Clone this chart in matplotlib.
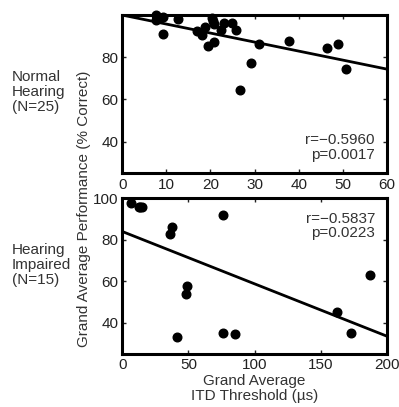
import matplotlib
matplotlib.use("Agg")
import matplotlib.pyplot as plt
import numpy as np

plt.rcParams["font.family"] = ["Liberation Sans", "DejaVu Sans"]
plt.rcParams["font.size"] = 11

# normal hearing: ITD threshold (us) vs performance (% correct)
nh_itd = [7.6, 7.6, 8.5, 9.2, 9.3, 12.7, 17.0, 18.0, 18.8, 19.5, 20.7, 20.4,
          20.5, 20.7, 22.4, 23.1, 24.8, 25.7, 29.1, 26.6, 30.9, 37.8, 46.4,
          48.9, 50.7]
nh_perf = [100.0, 97.6, 98.8, 99.2, 91.0, 98.1, 92.4, 90.5, 94.2, 85.3, 87.2,
           98.4, 97.0, 95.7, 92.9, 96.4, 96.1, 92.9, 77.4, 64.5, 86.1, 87.7,
           84.5, 86.4, 74.3]
nh_fit = [100.0, 74.4]  # fit line at x = 0 and 60
nh_stats = "r=\u22120.5960\np=0.0017"

# hearing impaired
hi_itd = [6.3, 12.6, 13.5, 14.7, 76.1, 37.4, 35.7, 48.8, 47.8, 41.7, 76.1,
          85.5, 162.6, 172.7, 187.4]
hi_perf = [97.6, 95.7, 96.0, 95.7, 91.8, 86.1, 82.7, 57.9, 53.9, 33.3, 35.2,
           34.4, 45.3, 34.9, 62.9]
hi_fit = [84.0, 33.6]  # fit line at x = 0 and 200
hi_stats = "r=\u22120.5837\np=0.0223"


def style(ax, xlim, xticks):
    ax.set_xlim(*xlim)
    ax.set_ylim(25, 100)
    ax.set_xticks(xticks)
    ax.set_yticks([40, 60, 80, 100])
    ax.tick_params(direction="in", top=True, right=True, length=3,
                   width=1, labelsize=11, pad=3, colors="#222222")
    for s in ax.spines.values():
        s.set_linewidth(2.2)


fig = plt.figure(figsize=(3.99, 4.07), dpi=100)
ax1 = fig.add_axes([0.3065, 0.574, 0.663, 0.389])
ax2 = fig.add_axes([0.3065, 0.1302, 0.663, 0.3826])

ax1.plot(nh_itd, nh_perf, "o", color="black", ms=6.2, clip_on=False)
ax1.plot([0, 60], nh_fit, color="black", lw=2)
style(ax1, (0, 60), [0, 10, 20, 30, 40, 50, 60])
ax1.set_yticklabels(["40", "60", "80", ""])
ax1.text(57.3, 30.5, nh_stats, ha="right", va="bottom", fontsize=11,
         color="#333333", linespacing=1.05)

ax2.plot(hi_itd, hi_perf, "o", color="black", ms=6.2, clip_on=False)
ax2.plot([0, 200], hi_fit, color="black", lw=2)
style(ax2, (0, 200), [0, 50, 100, 150, 200])
ax2.text(191, 93.5, hi_stats, ha="right", va="top", fontsize=11,
         color="#333333", linespacing=1.05)
ax2.set_xlabel("Grand Average\nITD Threshold (\u00b5s)", fontsize=11,
               color="#333333", labelpad=1, linespacing=1.1)

fig.text(0.21, 0.488, "Grand Average Performance (% Correct)", rotation=90,
         ha="center", va="center", fontsize=11, color="#333333")
fig.text(0.03, 0.773, "Normal\nHearing\n(N=25)", ha="left", va="center",
         fontsize=11, color="#333333", linespacing=1.1)
fig.text(0.03, 0.349, "Hearing\nImpaired\n(N=15)", ha="left", va="center",
         fontsize=11, color="#333333", linespacing=1.1)

fig.savefig("out.png", dpi=100)
